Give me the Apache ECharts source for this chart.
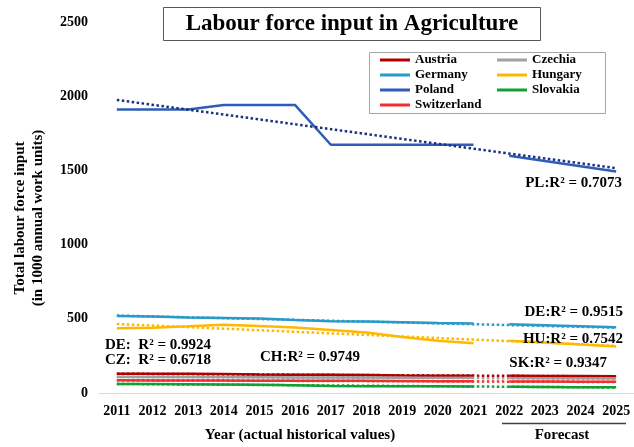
<!DOCTYPE html>
<html><head><meta charset="utf-8">
<script src="https://cdn.jsdelivr.net/npm/echarts@6/dist/echarts.min.js"></script>
<style>html,body{margin:0;padding:0;background:#fff}#c{width:634px;height:447px}</style>
</head><body><div id="c"></div>
<script>
const years = ['2011','2012','2013','2014','2015','2016','2017','2018','2019','2020','2021','2022','2023','2024','2025'];
const yTicks = [0, 500, 1000, 1500, 2000, 2500];

// historical 2011-2021
const austriaHist = [130,130,129,128,124,123,123,122,118,117,117];
const czechiaHist = [108,108,107,107,106,105,104,104,103,103,102];
const germanyHist = [519,515,509,506,502,492,484,481,477,472,468];
const hungaryHist = [437,440,449,460,452,441,425,408,378,352,335];
const polandHist = [1910,1910,1910,1940,1940,1940,1673,1673,1673,1673,1673];
const slovakiaHist = [60,60,59,58,56,52,47,46,45,45,44];
const switzerlandHist = [86,85,85,84,83,83,82,82,81,80,80];

// forecast 2022-2025
const austriaFcst = [116,115,114,113];
const czechiaFcst = [101,100,99,98];
const germanyFcst = [463,457,450,443];
const hungaryFcst = [352,340,327,313];
const polandFcst = [1598,1563,1528,1492];
const slovakiaFcst = [42,41,39,38];
const switzerlandFcst = [78,77,76,75];

// trend line end values (2011, 2025)
const austriaTrend = [130,112];
const czechiaTrend = [109,97];
const germanyTrend = [522,440];
const hungaryTrend = [465,318];
const polandTrend = [1975,1515];
const slovakiaTrend = [61,37];
const switzerlandTrend = [86,74];

const countries = [
  {name:'Austria', color:'#B00000', hist:austriaHist, fc:austriaFcst, tr:austriaTrend, trColor:'#B00000'},
  {name:'Czechia', color:'#A0A0A0', hist:czechiaHist, fc:czechiaFcst, tr:czechiaTrend, trColor:'#A0A0A0'},
  {name:'Germany', color:'#2A9BC8', hist:germanyHist, fc:germanyFcst, tr:germanyTrend, trColor:'#2A9BC8'},
  {name:'Hungary', color:'#FFB800', hist:hungaryHist, fc:hungaryFcst, tr:hungaryTrend, trColor:'#FFB800'},
  {name:'Poland', color:'#2E5DB8', hist:polandHist, fc:polandFcst, tr:polandTrend, trColor:'#1C2F80'},
  {name:'Slovakia', color:'#12A032', hist:slovakiaHist, fc:slovakiaFcst, tr:slovakiaTrend, trColor:'#12A032'},
  {name:'Switzerland', color:'#F03030', hist:switzerlandHist, fc:switzerlandFcst, tr:switzerlandTrend, trColor:'#F03030'}
];

const n = years.length;
const series = [];
countries.forEach(c => {
  const h = c.hist.concat(new Array(n - c.hist.length).fill(null));
  const f = new Array(n - c.fc.length).fill(null).concat(c.fc);
  const t = [c.tr[0]].concat(new Array(n - 2).fill(null), [c.tr[1]]);
  series.push({name:c.name, type:'line', data:h, symbol:'none', color:c.color,
    lineStyle:{width:2.5, color:c.color}, z:3});
  series.push({name:c.name+' forecast', type:'line', data:f, symbol:'none', color:c.color,
    lineStyle:{width:2.5, color:c.color}, z:3});
  series.push({name:c.name+' trend', type:'line', data:t, symbol:'none', connectNulls:true, color:c.trColor,
    lineStyle:{width:2.5, type:'dotted', color:c.trColor}, z:4});
});

const serif = '"Liberation Serif","Times New Roman",serif';
const chart = echarts.init(document.getElementById('c'), null, {renderer:'canvas'});
chart.setOption({
  animation:false,
  backgroundColor:'#fff',
  grid:{left:99, top:22, width:539, height:371, containLabel:false},
  xAxis:{type:'category', data:years, boundaryGap:true,
    axisLine:{lineStyle:{color:'#d9d9d9', width:1}}, axisTick:{show:false},
    axisLabel:{interval:0, margin:11, color:'#000', fontFamily:serif, fontWeight:'bold', fontSize:14}},
  yAxis:{type:'value', min:0, max:2500, interval:500,
    axisLine:{show:false}, axisTick:{show:false}, splitLine:{show:false},
    axisLabel:{margin:11, color:'#000', fontFamily:serif, fontWeight:'bold', fontSize:14,
      formatter: v => yTicks.indexOf(v) >= 0 ? String(v) : ''}},
  legend:[
    {data:['Austria','Germany','Poland','Switzerland'], orient:'vertical', left:380, top:53, padding:0,
      itemWidth:30, itemHeight:3, itemGap:1, icon:'rect',
      textStyle:{fontFamily:serif, fontWeight:'bold', fontSize:13, lineHeight:14, color:'#000'}},
    {data:['Czechia','Hungary','Slovakia'], orient:'vertical', left:497, top:53, padding:0,
      itemWidth:30, itemHeight:3, itemGap:1, icon:'rect',
      textStyle:{fontFamily:serif, fontWeight:'bold', fontSize:13, lineHeight:14, color:'#000'}}
  ],
  graphic:[
    {type:'rect', shape:{x:369.5, y:52.5, width:236, height:61}, style:{fill:null, stroke:'#a6a6a6', lineWidth:1}, z:10},
    {type:'rect', shape:{x:163.5, y:7.5, width:377, height:33}, style:{fill:'#fff', stroke:'#595959', lineWidth:1}, z:10},
    {type:'text', x:352, y:24, style:{text:'Labour force input in Agriculture', font:'bold 23px '+serif, fill:'#000', textAlign:'center', textVerticalAlign:'middle'}, z:11},
    {type:'text', x:29, y:218, rotation:Math.PI/2, style:{text:'Total labour force input\n(in 1000 annual work units)', font:'bold 15px '+serif, lineHeight:18, fill:'#000', textAlign:'center', textVerticalAlign:'middle'}, z:11},
    {type:'text', x:300, y:435, style:{text:'Year (actual historical values)', font:'bold 15px '+serif, fill:'#000', textAlign:'center', textVerticalAlign:'middle'}, z:11},
    {type:'text', x:562, y:435, style:{text:'Forecast', font:'bold 15px '+serif, fill:'#000', textAlign:'center', textVerticalAlign:'middle'}, z:11},
    {type:'line', shape:{x1:502, y1:423.5, x2:626, y2:423.5}, style:{stroke:'#404040', lineWidth:1.5}, z:11},
    {type:'text', x:622, y:183, style:{text:'PL:R² = 0.7073', font:'bold 15px '+serif, fill:'#000', textAlign:'right', textVerticalAlign:'middle'}, z:11},
    {type:'text', x:623, y:312, style:{text:'DE:R² = 0.9515', font:'bold 15px '+serif, fill:'#000', textAlign:'right', textVerticalAlign:'middle'}, z:11},
    {type:'text', x:623, y:339, style:{text:'HU:R² = 0.7542', font:'bold 15px '+serif, fill:'#000', textAlign:'right', textVerticalAlign:'middle'}, z:11},
    {type:'text', x:607, y:363, style:{text:'SK:R² = 0.9347', font:'bold 15px '+serif, fill:'#000', textAlign:'right', textVerticalAlign:'middle'}, z:11},
    {type:'text', x:105, y:345, style:{text:'DE:  R² = 0.9924', font:'bold 15px '+serif, fill:'#000', textAlign:'left', textVerticalAlign:'middle'}, z:11},
    {type:'text', x:105, y:360, style:{text:'CZ:  R² = 0.6718', font:'bold 15px '+serif, fill:'#000', textAlign:'left', textVerticalAlign:'middle'}, z:11},
    {type:'text', x:260, y:357, style:{text:'CH:R² = 0.9749', font:'bold 15px '+serif, fill:'#000', textAlign:'left', textVerticalAlign:'middle'}, z:11}
  ],
  series: series
});
</script>
</body></html>
